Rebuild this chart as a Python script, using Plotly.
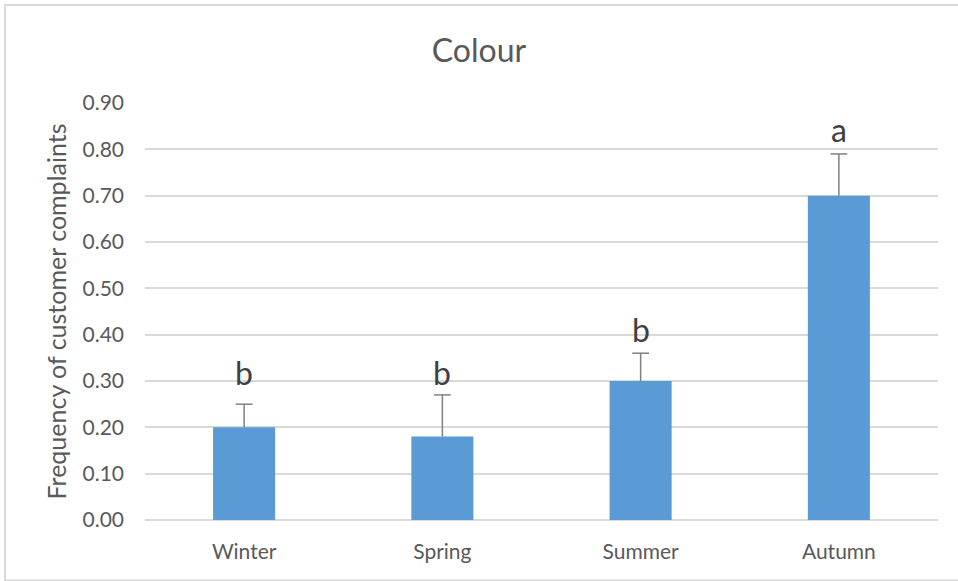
import plotly.graph_objects as go

# Seasonal frequency of colour complaints
seasons = ["Winter", "Spring", "Summer", "Autumn"]
frequency = [0.20, 0.18, 0.30, 0.70]
error_plus = [0.05, 0.09, 0.06, 0.09]
group_letters = ["b", "b", "b", "a"]
letter_heights = [0.289, 0.289, 0.382, 0.814]
y_ticks = [0.0, 0.1, 0.2, 0.3, 0.4, 0.5, 0.6, 0.7, 0.8, 0.9]

TEXT = "#595959"
GRID = "#d9d9d9"
ERR = "#808080"
FONT = "Lato, 'Open Sans', sans-serif"

fig = go.Figure()
# Bars with upward error stems (no caps, so the bar top stays clean)
fig.add_trace(go.Bar(
    x=seasons,
    y=frequency,
    marker=dict(color="#5b9bd5", line=dict(width=0)),
    error_y=dict(
        type="data", symmetric=False,
        array=error_plus, arrayminus=[0] * len(error_plus),
        color=ERR, thickness=1.5, width=0,
    ),
    showlegend=False,
))
# Caps at the upper end of each error bar
fig.add_trace(go.Scatter(
    x=seasons,
    y=[f + e for f, e in zip(frequency, error_plus)],
    mode="markers",
    marker=dict(symbol="line-ew", size=12, line=dict(color=ERR, width=1.5)),
    showlegend=False, hoverinfo="skip",
))

for s, letter, h in zip(seasons, group_letters, letter_heights):
    fig.add_annotation(
        x=s, y=h, text=letter, showarrow=False,
        yanchor="bottom", yshift=-8,
        font=dict(family=FONT, size=32, color="#404040"),
    )

# Outer chart border
fig.add_shape(
    type="rect", xref="paper", yref="paper",
    x0=-0.1765, x1=1.04, y0=-0.145, y1=1.235,
    line=dict(color=GRID, width=2), fillcolor="rgba(0,0,0,0)", layer="below",
)

fig.update_layout(
    width=958, height=581,
    margin=dict(l=145, r=20, t=103, b=61),
    paper_bgcolor="white", plot_bgcolor="white",
    bargap=0.687,
    font=dict(family=FONT, color=TEXT, size=21),
    title=dict(
        text="Colour", x=0.5, xanchor="center",
        y=1 - 51 / 581, yanchor="middle", yref="container",
        font=dict(family=FONT, size=32, color=TEXT),
    ),
    xaxis=dict(
        showgrid=False, showline=False, zeroline=False,
        ticks="", ticklabelstandoff=17,
        tickfont=dict(family=FONT, size=21, color=TEXT),
    ),
    yaxis=dict(
        range=[0, 0.9], tickvals=y_ticks, tickformat=".2f",
        showgrid=True, gridcolor=GRID, gridwidth=1.5,
        zeroline=True, zerolinecolor=GRID, zerolinewidth=1.5,
        showline=False, ticks="", ticklabelstandoff=20,
        tickfont=dict(family=FONT, size=21, color=TEXT),
        title=dict(text="Frequency of customer complaints", standoff=8,
                   font=dict(family=FONT, size=25, color=TEXT)),
    ),
)

fig.write_html("out.html")
